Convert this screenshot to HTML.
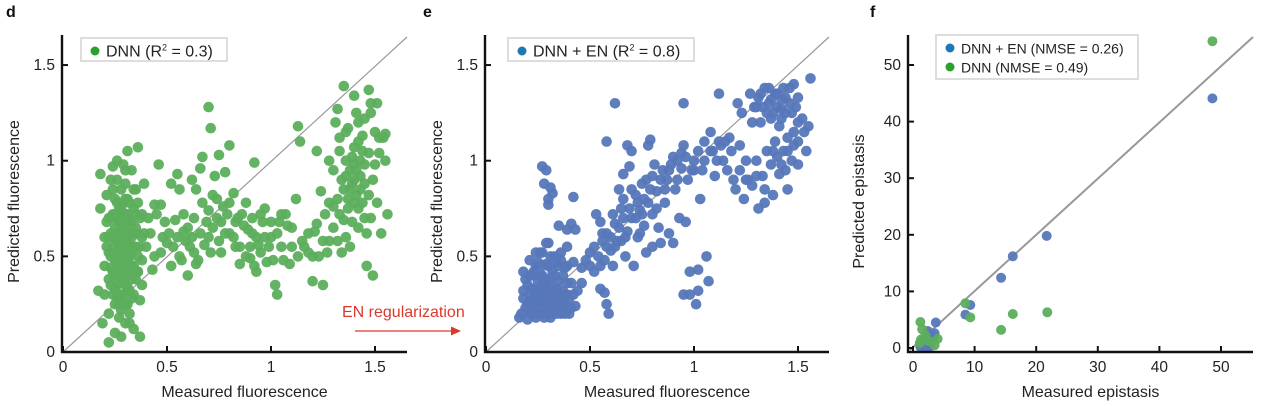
<!DOCTYPE html>
<html><head><meta charset="utf-8">
<style>
html,body{margin:0;padding:0;background:#fff;}
svg{display:block;font-family:"Liberation Sans",Arial,sans-serif;}
</style></head>
<body>
<svg id="fig" width="1262" height="406" viewBox="0 0 1262 406"></svg>
<script>
// ---- Panel d data (DNN) ----
const dMeasured = [0.17,0.18,0.18,0.19,0.2,0.2,0.2,0.21,0.21,0.22,0.22,0.22,0.22,0.23,0.23,0.23,0.24,0.24,0.24,0.25,0.25,0.25,0.25,0.25,0.25,0.26,0.26,0.26,0.26,0.27,0.27,0.27,0.27,0.27,0.27,0.28,0.28,0.28,0.28,0.28,0.29,0.29,0.29,0.29,0.29,0.29,0.3,0.3,0.3,0.3,0.3,0.3,0.3,0.3,0.31,0.31,0.31,0.31,0.32,0.32,0.32,0.32,0.32,0.33,0.33,0.33,0.34,0.34,0.34,0.35,0.35,0.35,0.36,0.36,0.37,0.37,0.38,0.38,0.26,0.24,0.23,0.26,0.28,0.33,0.31,0.27,
0.36,0.39,0.41,0.43,0.44,0.46,0.47,0.48,0.5,0.52,0.52,0.54,0.55,0.56,0.57,0.58,0.6,0.61,0.62,0.63,0.64,0.65,0.66,0.67,0.67,0.7,0.71,0.7,0.72,0.73,0.74,0.75,0.76,0.77,0.78,0.8,0.8,0.82,0.83,0.84,0.85,0.87,0.88,0.9,0.91,0.92,0.93,0.94,0.96,0.97,0.98,1.0,1.02,1.03,1.04,1.05,1.07,1.09,1.1,1.12,1.13,1.14,1.15,1.18,1.2,1.21,1.22,1.23,1.24,1.25,1.26,1.28,1.3,1.3,1.31,1.32,1.33,1.34,1.34,1.35,1.35,1.36,1.37,1.37,1.38,1.39,1.4,1.4,1.41,1.42,1.42,1.43,1.44,1.45,1.45,1.46,1.47,1.47,1.48,1.49,1.49,1.5,1.51,1.51,1.52,1.53,1.54,1.55,1.56,1.38,1.43,1.4,1.32,1.28,1.36,1.47,1.5];
const dPredicted = [0.32,0.93,0.75,0.15,0.3,0.45,0.6,0.68,0.82,0.05,0.2,0.38,0.52,0.9,0.62,0.44,0.3,0.72,0.55,0.1,0.25,0.4,0.48,0.65,0.8,0.35,0.58,0.7,0.9,0.18,0.28,0.45,0.52,0.62,0.75,0.85,0.08,0.38,0.56,0.68,0.98,0.3,0.42,0.5,0.6,0.78,0.15,0.25,0.35,0.47,0.55,0.65,0.72,0.88,1.05,0.4,0.58,0.8,0.2,0.32,0.5,0.62,0.7,0.95,0.45,0.28,0.55,0.75,0.12,0.65,0.38,0.85,1.07,0.5,0.27,0.08,0.6,0.72,1.0,0.97,0.5,0.28,0.22,0.6,0.68,0.4,
0.42,0.88,0.7,0.43,0.77,0.98,0.77,0.6,0.57,0.88,0.45,0.69,0.93,0.85,0.48,0.63,0.4,0.55,0.9,0.7,0.85,0.48,0.96,0.78,1.02,1.28,1.17,0.6,0.82,0.92,0.7,1.03,0.52,0.76,0.94,0.62,1.08,0.83,0.55,0.7,0.46,0.66,0.78,0.49,0.62,0.99,0.42,0.56,0.68,0.75,0.47,0.6,0.35,0.3,0.68,0.55,0.72,0.46,0.65,0.8,1.18,1.1,0.58,0.52,0.37,0.63,1.05,0.5,0.84,0.35,0.72,0.58,0.76,0.95,1.2,1.27,1.05,0.52,0.9,1.39,0.69,1.0,1.17,0.8,0.55,0.88,1.34,1.07,0.95,0.65,1.2,0.85,1.13,0.98,0.7,0.45,1.37,1.04,1.25,0.9,0.4,1.15,1.3,0.78,1.04,0.62,1.12,1.14,0.72,0.95,1.0,0.78,0.8,1.0,0.6,0.82,0.98];
const dExtraMeasured = [0.4,0.42,0.44,0.45,0.47,0.49,0.51,0.53,0.55,0.56,0.58,0.59,0.6,0.62,0.63,0.64,0.66,0.68,0.69,0.7,0.71,0.72,0.74,0.75,0.76,0.78,0.79,0.8,0.82,0.83,0.85,0.86,0.88,0.89,0.9,0.91,0.92,0.93,0.95,0.95,0.97,0.99,1.0,1.01,1.03,1.05,1.06,1.08,1.1,1.13,1.16,1.18,1.2,1.22,1.25,1.27,1.28,1.3,1.32,1.33,1.35,1.37,1.39,1.4,1.41,1.43,1.44,1.45,1.46,1.48,1.39,1.42,1.45,1.48,1.36,1.41,1.52,1.55,1.33,1.44,1.38,1.42,1.36,1.4,
0.21,0.22,0.23,0.24,0.24,0.25,0.25,0.26,0.26,0.27,0.27,0.28,0.28,0.28,0.29,0.29,0.29,0.3,0.3,0.3,0.3,0.31,0.31,0.31,0.32,0.32,0.32,0.33,0.33,0.33,0.34,0.34,0.34,0.35,0.35,0.36,0.36,0.37,0.37,0.38,0.38,0.39,0.26,0.27,0.28,0.29,0.26,0.27,0.31,0.31,0.32,0.24,0.23,0.25,0.3,0.34,0.36,0.22];
const dExtraPredicted = [0.55,0.62,0.5,0.72,0.52,0.68,0.62,0.55,0.6,0.5,0.72,0.58,0.65,0.6,0.52,0.46,0.62,0.56,0.68,0.74,0.52,0.65,0.8,0.58,0.68,0.62,0.72,0.78,0.6,0.68,0.55,0.72,0.5,0.64,0.55,0.7,0.45,0.6,0.52,0.72,0.6,0.55,0.68,0.48,0.62,0.72,0.48,0.66,0.55,0.5,0.55,0.62,0.5,0.67,0.58,0.52,0.78,0.65,0.58,0.72,0.85,0.75,0.68,0.9,0.82,0.92,0.78,0.88,0.62,0.7,1.02,1.1,1.22,1.3,1.15,1.25,1.12,1.0,1.12,1.05,0.85,0.75,0.92,0.98,
0.55,0.7,0.35,0.6,0.85,0.52,0.33,0.45,0.78,0.6,0.68,0.48,0.3,0.75,0.65,0.38,0.55,0.42,0.6,0.5,0.8,0.48,0.34,0.62,0.55,0.42,0.78,0.52,0.68,0.38,0.62,0.45,0.3,0.55,0.72,0.62,0.42,0.55,0.7,0.48,0.35,0.62,0.62,0.55,0.62,0.72,0.4,0.25,0.72,0.25,0.15,0.42,0.7,0.72,0.95,0.85,0.78,0.6];
// ---- Panel e data (DNN + EN) ----
const eMeasured = [0.16,0.17,0.18,0.18,0.19,0.2,0.2,0.21,0.21,0.22,0.22,0.23,0.23,0.24,0.24,0.25,0.25,0.26,0.26,0.27,0.27,0.28,0.28,0.28,0.29,0.29,0.3,0.3,0.3,0.31,0.31,0.31,0.32,0.32,0.33,0.33,0.34,0.34,0.35,0.35,0.36,0.36,0.37,0.38,0.38,0.39,0.4,0.41,0.42,0.43,0.44,0.46,0.24,0.26,0.29,0.32,0.27,0.22,
0.27,0.29,0.28,0.31,0.32,0.3,0.3,0.42,0.35,0.39,0.41,0.39,0.43,
0.46,0.5,0.52,0.53,0.55,0.56,0.57,0.58,0.6,0.61,0.62,0.55,0.58,0.59,0.57,0.58,0.62,0.64,0.65,0.65,0.66,0.67,0.68,0.69,0.7,0.7,0.71,0.72,0.73,0.74,0.75,0.76,0.77,0.78,0.78,0.79,0.8,0.8,0.81,0.82,0.83,0.84,0.85,0.86,0.87,0.88,0.89,0.9,0.91,0.92,0.93,0.94,0.95,0.95,0.96,0.97,0.98,0.98,0.99,1.0,1.02,1.01,1.02,1.03,1.04,1.05,1.06,1.07,1.08,1.09,1.1,1.11,1.12,1.13,1.15,1.16,1.18,1.2,1.21,1.22,1.23,1.24,1.25,1.26,1.27,1.28,1.29,1.3,1.31,1.31,1.32,1.33,1.34,1.34,1.35,1.36,1.37,1.37,1.38,1.39,1.39,1.4,1.41,1.41,1.42,1.43,1.43,1.44,1.45,1.45,1.46,1.47,1.48,1.48,1.49,1.5,1.5,1.52,1.53,1.54,1.55,1.56,1.28,1.38,1.33,1.42,1.36,0.68,0.66,0.74,0.62,0.95];
const ePredicted = [0.18,0.2,0.28,0.42,0.23,0.17,0.35,0.3,0.48,0.2,0.4,0.25,0.33,0.18,0.45,0.28,0.37,0.22,0.52,0.3,0.4,0.18,0.26,0.34,0.46,0.57,0.22,0.3,0.38,0.18,0.27,0.5,0.34,0.42,0.22,0.3,0.2,0.47,0.27,0.37,0.52,0.2,0.32,0.25,0.44,0.3,0.2,0.36,0.47,0.24,0.32,0.36,0.25,0.32,0.2,0.25,0.35,0.27,
0.97,0.95,0.88,0.86,0.83,0.8,0.77,0.81,0.66,0.64,0.67,0.55,0.64,
0.44,0.52,0.42,0.72,0.68,0.58,0.48,0.62,0.53,0.45,0.67,0.33,0.25,0.2,0.31,1.1,1.3,0.85,0.58,0.75,0.93,0.5,0.63,0.97,1.05,0.7,0.45,0.82,0.6,0.74,0.88,0.66,0.52,1.08,0.78,1.11,0.55,0.72,0.98,0.84,0.65,0.57,0.95,0.78,0.9,0.62,0.98,0.57,0.85,1.0,0.7,1.04,0.3,1.08,0.68,0.9,0.42,0.3,0.95,1.0,0.43,0.25,0.32,0.8,0.95,1.1,0.5,0.37,1.15,1.05,0.92,1.0,1.35,1.08,1.1,0.95,1.05,0.85,1.3,0.95,1.25,0.8,1.0,0.9,1.35,0.87,1.28,1.0,1.33,0.75,1.2,0.92,1.38,0.78,1.05,1.3,0.98,1.22,0.82,1.35,1.1,1.28,0.93,1.18,1.32,1.05,1.38,1.25,1.12,0.85,1.3,1.0,1.4,1.15,1.28,0.98,1.1,1.22,1.15,1.05,1.18,1.43,1.2,1.25,1.28,1.22,1.38,1.08,0.8,0.62,0.55,1.3];
const eExtraMeasured = [0.18,0.19,0.2,0.21,0.22,0.23,0.23,0.24,0.25,0.25,0.26,0.26,0.27,0.27,0.28,0.28,0.29,0.29,0.3,0.3,0.31,0.31,0.32,0.32,0.33,0.33,0.34,0.35,0.35,0.36,0.37,0.37,0.38,0.39,0.4,0.41,0.42,0.21,0.24,0.27,0.3,0.33,0.36,0.39,
0.48,0.5,0.52,0.54,0.55,0.56,0.58,0.6,0.61,0.63,0.64,0.66,0.67,0.69,0.7,0.72,0.73,0.75,0.76,0.77,0.79,0.8,0.82,0.84,0.86,0.88,0.9,0.92,0.94,0.96,1.0,1.02,1.05,1.08,1.12,1.14,1.17,1.19,1.22,1.25,1.3,1.32,1.35,1.37,1.4,1.42,1.44,1.46,1.47,1.5,1.4,1.42,1.45,1.38,1.44,1.48,1.5,1.3,1.34];
const eExtraPredicted = [0.32,0.38,0.25,0.22,0.33,0.2,0.42,0.3,0.2,0.47,0.27,0.4,0.2,0.45,0.3,0.38,0.25,0.33,0.27,0.45,0.22,0.38,0.2,0.3,0.26,0.4,0.33,0.22,0.45,0.3,0.24,0.4,0.2,0.36,0.28,0.23,0.3,0.4,0.52,0.52,0.57,0.5,0.48,0.45,
0.48,0.45,0.55,0.5,0.45,0.62,0.55,0.6,0.72,0.58,0.65,0.7,0.6,0.75,0.85,0.7,0.78,0.72,0.8,0.9,0.85,0.92,0.75,0.9,0.85,0.95,1.02,0.9,0.96,1.02,0.95,1.05,1.0,1.05,1.1,1.0,1.12,0.9,1.08,0.9,1.28,1.35,1.25,1.32,1.35,1.27,1.33,1.38,1.25,1.33,1.02,0.98,1.05,1.05,0.95,1.08,1.2,0.92,0.85];
// ---- Panel f data ----
const fBlueMeasured = [48.6,21.7,16.2,14.3,9.3,8.5,3.7,2.4,3.0,2.0,1.5,2.5,3.3,1.2,2.8,1.8,3.5,2.2,1.6];
const fBluePredicted = [44.1,19.8,16.2,12.4,7.6,5.9,4.5,3.0,2.2,1.5,0.5,0.8,1.8,0.2,0.3,0.9,2.6,0.1,1.1];
const fGreenMeasured = [48.6,21.8,16.2,14.3,9.3,8.5,1.2,1.5,1.3,2.0,4.0,3.5,1.1,2.6];
const fGreenPredicted = [54.2,6.3,6.0,3.2,5.4,7.9,4.6,3.3,1.5,2.2,1.6,0.5,0.9,1.2];
const fluoTicks = [0,0.5,1,1.5];
const fluoTickLabels = ["0","0.5","1","1.5"];
const epiTicks = [0,10,20,30,40,50];
const epiTickLabels = ["0","10","20","30","40","50"];

const NS="http://www.w3.org/2000/svg";
const svg=document.getElementById('fig');
function mk(tag,attrs,parent){const e=document.createElementNS(NS,tag);for(const k in attrs)e.setAttribute(k,attrs[k]);(parent||svg).appendChild(e);return e;}

function panel(cfg){
  const g=mk('g',{});
  
  
  const sx=v=>cfg.x0+v*cfg.kx;
  const sy=v=>cfg.y0-v*cfg.ky;
  const dl=mk('line',{x1:cfg.diag[0],y1:cfg.diag[1],x2:cfg.diag[2],y2:cfg.diag[3],stroke:'#999','stroke-width':cfg.diagW},g);
  
  
  cfg.series.forEach(s=>{
    const sg=mk('g',{},g);
    
    
    for(let i=0;i<s.xs.length;i++){
      const c=mk('circle',{cx:sx(s.xs[i]).toFixed(1),cy:sy(s.ys[i]).toFixed(1),r:cfg.r,fill:s.color,'fill-opacity':0.95},sg);
      
      
    }
  });
  const ax=mk('path',{d:`M${cfg.axL},${cfg.axT} V${cfg.axB} H${cfg.axR}`,fill:'none',stroke:'#111','stroke-width':2.4},g);
  
  
  cfg.ticks.forEach((t,i)=>{
    const X=sx(t),Y=sy(t);
    mk('line',{x1:X,y1:cfg.axB,x2:X,y2:cfg.axB-6,stroke:'#111','stroke-width':2},g);
    const tx=mk('text',{x:X,y:cfg.axB+20,'font-size':15.5,'text-anchor':'middle',fill:'#222'},g);
    tx.textContent=cfg.labels[i];
    
    
    mk('line',{x1:cfg.axL,y1:Y,x2:cfg.axL+6,y2:Y,stroke:'#111','stroke-width':2},g);
    const ty=mk('text',{x:cfg.axL-7,y:Y+5,'font-size':15.5,'text-anchor':'end',fill:'#222'},g);
    ty.textContent=cfg.labels[i];
    
    
  });
  const xl=mk('text',{x:(cfg.axL+cfg.axR)/2+10,y:397,'font-size':16,'text-anchor':'middle',fill:'#222'},g);
  xl.textContent=cfg.xlabel;
  
  
  const yl=mk('text',{x:0,y:0,'font-size':16,'text-anchor':'middle',fill:'#222',transform:`translate(${cfg.ylx},${(cfg.axT+cfg.axB)/2+8}) rotate(-90)`},g);
  yl.textContent=cfg.ylabel;
  
  
  const pl=mk('text',{x:cfg.letterX,y:17,'font-size':16,'font-weight':'bold',fill:'#111'},g);
  pl.textContent=cfg.letter;
  
  
  const lg=mk('g',{},g);
  
  
  mk('rect',{x:cfg.leg[0],y:cfg.leg[1],width:cfg.leg[2],height:cfg.leg[3],fill:'#fff',stroke:'#ddd','stroke-width':2},lg);
  cfg.legItems.forEach((it,i)=>{
    const yy=cfg.leg[1]+13+i*19;
    mk('circle',{cx:cfg.leg[0]+14,cy:yy,r:4.5,fill:it.color},lg);
    const t=mk('text',{x:cfg.leg[0]+25,y:yy+5.5,'font-size':it.fs||16,fill:'#222'},lg);
    t.innerHTML=it.html;
    
    
  });
}

const green='#5cae5c', blue='#5677b9';
panel({name:'panel-d',letter:'d',letterX:6,x0:63,y0:352,kx:208,ky:191.3,diag:[63,352,407,37],diagW:1.2,r:5.3,
  axL:62,axT:35,axB:352,axR:407,ticks:fluoTicks,labels:fluoTickLabels,xlabel:'Measured fluorescence',ylabel:'Predicted fluorescence',ylx:19,
  series:[{name:'dnn-points',xs:dMeasured.concat(dExtraMeasured),ys:dPredicted.concat(dExtraPredicted),color:green}],
  leg:[81,38,146,23],legItems:[{color:'#2ca02c',html:'DNN (R<tspan font-size="9" dy="-6">2</tspan><tspan dy="6"> = 0.3)</tspan>'}]});
panel({name:'panel-e',letter:'e',letterX:423,x0:486,y0:352,kx:208,ky:191.3,diag:[486,352,829,37],diagW:1.2,r:5.3,
  axL:485,axT:35,axB:352,axR:829,ticks:fluoTicks,labels:fluoTickLabels,xlabel:'Measured fluorescence',ylabel:'Predicted fluorescence',ylx:442,
  series:[{name:'dnn-en-points',xs:eMeasured.concat(eExtraMeasured),ys:ePredicted.concat(eExtraPredicted),color:blue}],
  leg:[508,38,186,23],legItems:[{color:'#1f77b4',html:'DNN + EN (R<tspan font-size="9" dy="-6">2</tspan><tspan dy="6"> = 0.8)</tspan>'}]});
panel({name:'panel-f',letter:'f',letterX:870,x0:913,y0:348,kx:6.16,ky:5.66,diag:[910,350,1253,37],diagW:2,r:5,
  axL:908,axT:35,axB:352,axR:1253,ticks:epiTicks,labels:epiTickLabels,xlabel:'Measured epistasis',ylabel:'Predicted epistasis',ylx:864,
  series:[{name:'dnn-en-points',xs:fBlueMeasured,ys:fBluePredicted,color:blue},{name:'dnn-points',xs:fGreenMeasured,ys:fGreenPredicted,color:green}],
  leg:[936,35,202,44],legItems:[{color:'#1f77b4',html:'DNN + EN (NMSE = 0.26)',fs:14},{color:'#2ca02c',html:'DNN (NMSE = 0.49)',fs:14}]});

const an=mk('g',{});


const at=mk('text',{x:342,y:317,'font-size':16,fill:'#d93a2b'},an);
at.textContent='EN regularization';
mk('line',{x1:355,y1:331,x2:458,y2:331,stroke:'#d93a2b','stroke-width':1.3},an);
mk('path',{d:'M461,331 L451,326.5 L451,335.5 Z',fill:'#d93a2b'},an);
</script>
</body></html>
